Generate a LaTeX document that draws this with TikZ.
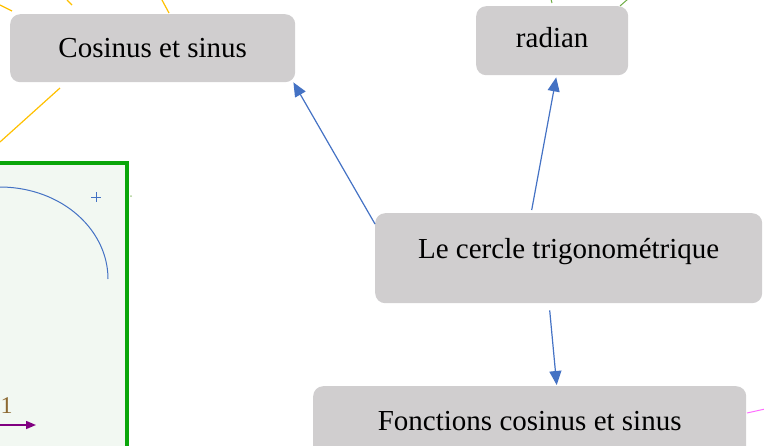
\documentclass[tikz,border=0pt]{standalone}
\usepackage{fontspec}
\setmainfont{Liberation Serif}
\usetikzlibrary{arrows.meta}
\definecolor{boxgray}{RGB}{208,206,207}
\definecolor{arrblue}{RGB}{68,114,196}
\definecolor{ylw}{RGB}{255,192,0}
\definecolor{lgreen}{RGB}{112,173,71}
\definecolor{magen}{RGB}{255,110,255}
\definecolor{bgreen}{RGB}{10,166,10}
\definecolor{palegreen}{RGB}{242,248,242}
\definecolor{purp}{RGB}{128,0,128}
\definecolor{onecol}{RGB}{140,105,50}
\tikzset{
  topic/.style={fill=boxgray, rounded corners=10pt, inner sep=0pt, anchor=north west,
    font=\fontsize{29}{34}\selectfont, text=black},
  arr/.style={draw=arrblue, line width=1.2pt, -{Triangle[length=14pt,width=12pt]}},
  yline/.style={draw=ylw, line width=1.2pt},
  gline/.style={draw=lgreen, line width=1pt},
  mline/.style={draw=magen, line width=1pt},
}
\begin{document}
\begin{tikzpicture}[x=1pt,y=-1pt]
\useasboundingbox (0,0) rectangle (764,445);
% left green panel
\draw[draw=bgreen, fill=palegreen, line width=4pt] (-10,163) rectangle (127,470);
\fill[lgreen!60] (131,196) circle (1);
\draw[arrblue, line width=1pt] (0,279) ++(-125:108 and 92) arc[start angle=-125, end angle=0, x radius=108, y radius=92];
\draw[arrblue, line width=0.8pt] (91,197) -- (101,197) (96,192) -- (96,202);
\node[text=onecol, font=\fontsize{24}{28}\selectfont, inner sep=0pt, anchor=base west] (one) at (0.5,413) {1};
\coordinate (pa) at (-5,425);
\coordinate (pb) at (36,425);
\draw[purp, line width=1.5pt, -{Triangle[length=10pt,width=8pt]}] (pa) -- (pb);
% side lines to off-picture topics
\draw[yline] (0,5) -- (12,11);
\draw[yline] (67,0) -- (72,5);
\draw[yline] (162,0) -- (169,13);
\draw[yline] (60,88) -- (0,142);
\draw[gline] (551,-1) -- (552,3);
\draw[gline] (620,6) -- (628,-1);
\draw[mline] (747,413) -- (765,409);
% topics
\node[topic, minimum width=285pt, text height=43pt, text depth=25pt] (cos) at (10,14) {Cosinus et sinus};
\node[topic, minimum width=152pt, text height=41pt, text depth=28pt] (rad) at (476,6) {radian};
\node[topic, minimum width=387pt, text height=45pt, text depth=45pt] (trig) at (375,213) {Le cercle trigonométrique};
\node[topic, minimum width=433pt, text height=44pt, text depth=40pt] (fonc) at (313,386) {Fonctions cosinus et sinus};
% connectors
\draw[arr] ([yshift=-11pt]trig.north west) -- ([xshift=-2pt]cos.south east);
\draw[arr] ([xshift=-37pt,yshift=3pt]trig.north) -- ([xshift=4pt,yshift=-2pt]rad.south);
\draw[arr] ([xshift=-19pt,yshift=-7pt]trig.south) -- ([xshift=27pt,yshift=1pt]fonc.north);
\end{tikzpicture}
\end{document}
